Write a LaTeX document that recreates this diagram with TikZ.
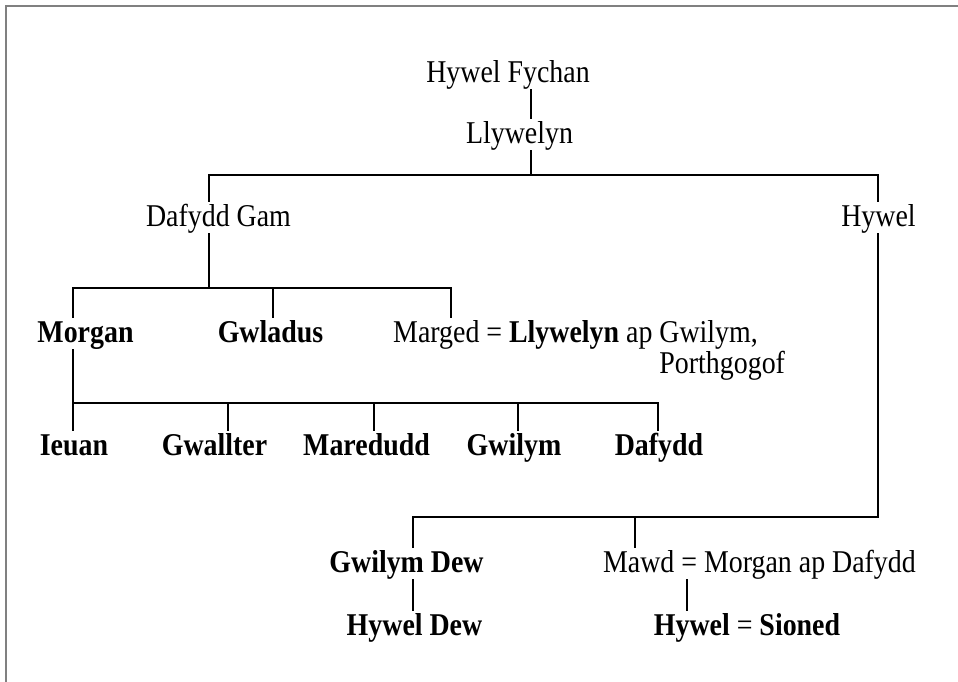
\documentclass[tikz,border=0pt]{standalone}
\usepackage{fontspec}
\setmainfont{Liberation Serif}[FakeStretch=0.88]
\definecolor{framegray}{RGB}{128,128,128}
\begin{document}
\begin{tikzpicture}[x=1pt,y=-1pt,
  person/.style={font=\fontsize{31.7}{29}\selectfont, text height=21pt, text depth=4pt,
                 inner xsep=0pt, inner ysep=3pt, anchor=base},
  link/.style={line width=2.4pt, draw=black},
  frameline/.style={line width=2pt, draw=framegray}]
\useasboundingbox (0,0) rectangle (958,681);
\draw[frameline] (6,690) -- (6,6) -- (970,6);

% people
\node[person] (hf) at (508,82) {Hywel Fychan};
\node[person] (ll) at (519.5,143) {Llywelyn};
\node[person] (dg) at (218.5,226) {Dafydd Gam};
\node[person] (hy) at (878.5,226) {Hywel};
\node[person] (mo) at (85.5,342) {\textbf{Morgan}};
\node[person] (gw) at (270.5,342) {\textbf{Gwladus}};
\node[person, anchor=base west] (mg) at (393,342)
  {\begin{tabular}[t]{@{}l@{}l@{}}Marged = \textbf{Llywelyn} ap\ \null & Gwilym,\\ & Porthgogof\end{tabular}};
\node[person] (ie) at (74,455) {\textbf{Ieuan}};
\node[person] (gt) at (214.5,455) {\textbf{Gwallter}};
\node[person] (md) at (366.5,455) {\textbf{Maredudd}};
\node[person] (gy) at (514,455) {\textbf{Gwilym}};
\node[person] (da) at (659,455) {\textbf{Dafydd}};
\node[person] (gd) at (406.5,572) {\textbf{Gwilym Dew}};
\node[person] (mw) at (759.5,572) {Mawd = Morgan ap Dafydd};
\node[person] (hd) at (414.5,635) {\textbf{Hywel Dew}};
\node[person] (hs) at (747,635) {\textbf{Hywel} = \textbf{Sioned}};

% bar coordinates
\coordinate (b1) at (531,175);
\coordinate (b1l) at (209,175);
\coordinate (b1r) at (878,175);
\coordinate (b2) at (209,288);
\coordinate (b2l) at (73,288);
\coordinate (b2m) at (273,288);
\coordinate (b2r) at (451,288);
\coordinate (b3l) at (73,403);
\coordinate (b3a) at (228,403);
\coordinate (b3b) at (374,403);
\coordinate (b3c) at (518,403);
\coordinate (b3r) at (658,403);
\coordinate (b4l) at (413,517);
\coordinate (b4m) at (635,517);
\coordinate (b4r) at (878,517);
\coordinate (c5) at (687,600);

% connectors
\draw[link] (hf.south -| b1) -- (ll.north -| b1);
\draw[link] (ll.south -| b1) -- (b1);
\draw[link] (dg.north -| b1l) -- (b1l) -- (b1r) -- (hy.north -| b1r);
\draw[link] (dg.south -| b2) -- (b2);
\draw[link] (mo.north -| b2l) -- (b2l) -- (b2r) -- (mg.north -| b2r);
\draw[link] (b2m) -- (gw.north -| b2m);
\draw[link] (mo.south -| b3l) -- (ie.north -| b3l);
\draw[link] (b3l) -- (b3r) -- (da.north -| b3r);
\draw[link] (b3a) -- (gt.north -| b3a);
\draw[link] (b3b) -- (md.north -| b3b);
\draw[link] (b3c) -- (gy.north -| b3c);
\draw[link] (hy.south -| b4r) -- (b4r) -- (b4l) -- (gd.north -| b4l);
\draw[link] (b4m) -- (mw.north -| b4m);
\draw[link] (gd.south -| b4l) -- (hd.north -| b4l);
\draw[link] (mw.south -| c5) -- (hs.north -| c5);
\end{tikzpicture}
\end{document}
